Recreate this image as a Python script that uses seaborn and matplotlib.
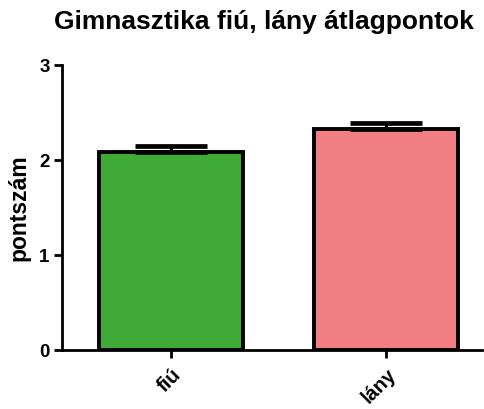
import matplotlib
matplotlib.use("Agg")
from matplotlib import pyplot as plt
import seaborn as sns

# data
groups = ['fiú', 'lány']
means = [2.08, 2.33]
sem = [0.065, 0.065]
colors = ['#40aa36', '#f07e82']

sns.set_style('ticks')
plt.rcParams['font.family'] = ['Liberation Sans', 'DejaVu Sans']
plt.rcParams['font.weight'] = 'bold'
plt.rcParams['text.color'] = 'black'
plt.rcParams['axes.labelcolor'] = 'black'
plt.rcParams['xtick.color'] = 'black'
plt.rcParams['ytick.color'] = 'black'
plt.rcParams['axes.edgecolor'] = 'black'

fig = plt.figure(figsize=(4.85, 4.09), dpi=100)
ax = fig.add_axes([0.128, 0.144, 0.866, 0.697])

sns.barplot(x=groups, y=means, hue=groups, palette=colors, width=0.67, saturation=1,
            edgecolor='black', linewidth=2.8, legend=False, ax=ax)
# only the upper half of the error bar, GraphPad style
ax.errorbar(range(len(groups)), means, yerr=[[0] * len(sem), sem], fmt='none',
            ecolor='black', elinewidth=2.2, capsize=26, capthick=3.4, zorder=1)

ax.set_ylim(0, 3)
ax.set_yticks([0, 1, 2, 3])
ax.set_xlim(-0.507, 1.445)
ax.set_ylabel('pontszám', fontsize=16.5, fontweight='bold', labelpad=6)
fig.suptitle('Gimnasztika fiú, lány átlagpontok', x=0.545, y=0.975, va='top',
             fontsize=19, fontweight='bold')
ax.tick_params(axis='y', width=2, length=6, labelsize=13.5, pad=3)
ax.tick_params(axis='x', width=2, length=6, labelsize=14.5, pad=5)
plt.setp(ax.get_xticklabels(), rotation=45, ha='right', rotation_mode='anchor', fontweight='bold')
plt.setp(ax.get_yticklabels(), fontweight='bold')
for s in ['left', 'bottom']:
    ax.spines[s].set_linewidth(2)
sns.despine(ax=ax)

fig.savefig('out.png', dpi=100)
